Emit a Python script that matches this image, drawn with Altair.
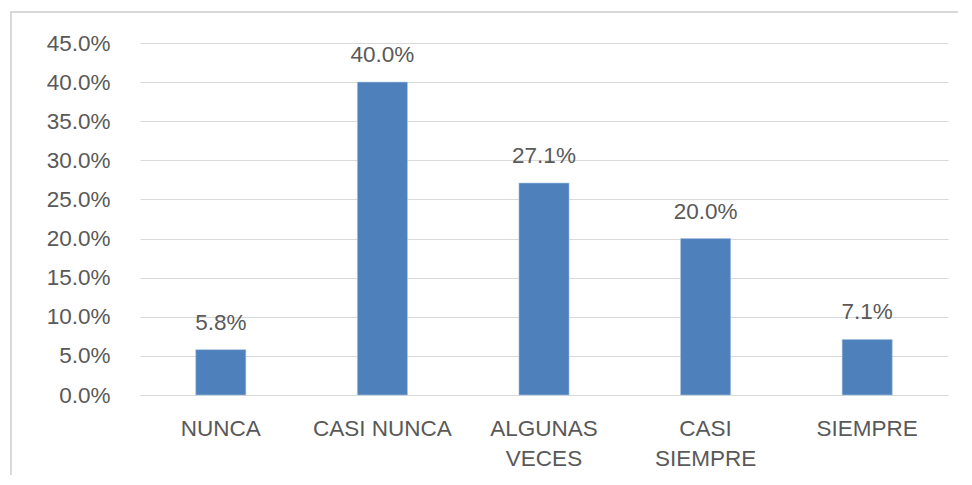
import altair as alt
import pandas as pd

categories = ["NUNCA", "CASI NUNCA", "ALGUNAS VECES", "CASI SIEMPRE", "SIEMPRE"]
values = [0.058, 0.400, 0.271, 0.200, 0.071]
y_ticks = [0.0, 0.05, 0.10, 0.15, 0.20, 0.25, 0.30, 0.35, 0.40, 0.45]

df = pd.DataFrame({"cat": categories, "val": values})

FONT = "Liberation Sans"
TXT = "#595959"
GRID = "#d9d9d9"
FS = 22.5

label_expr = ("datum.label == 'ALGUNAS VECES' ? ['ALGUNAS', 'VECES'] : "
              "datum.label == 'CASI SIEMPRE' ? ['CASI', 'SIEMPRE'] : datum.label")

x = alt.X("cat:N", sort=categories, title=None,
          scale=alt.Scale(paddingInner=0.69, paddingOuter=0.345),
          axis=alt.Axis(labelAngle=0, ticks=False, domain=True, domainColor=GRID,
                        labelFontSize=FS, labelColor=TXT, labelFont=FONT,
                        labelPadding=22, labelLineHeight=30, labelExpr=label_expr,
                        labelOverlap=False))
y = alt.Y("val:Q", title=None,
          scale=alt.Scale(domain=[0, 0.45], nice=False, zero=True),
          axis=alt.Axis(values=y_ticks, tickCount=10, format=".1%", ticks=False, domain=False,
                        grid=True, gridColor=GRID, labelFontSize=FS, labelColor=TXT,
                        labelFont=FONT, labelPadding=30, labelOverlap=False))

bars = alt.Chart(df).mark_bar(color="#4e80bc", stroke="#a9c3e3", strokeWidth=0.6).encode(x=x, y=y)
labels = alt.Chart(df).mark_text(dy=-27, fontSize=FS, color=TXT, font=FONT,
                                 baseline="middle").encode(
    x=x, y=y, text=alt.Text("val:Q", format=".1%"))

frame_top = alt.Chart(df).mark_rule(color="#d9d9d9", strokeWidth=2, clip=False).encode(
    x=alt.value(-130), x2=alt.value(830), y=alt.value(-31))
frame_left = alt.Chart(df).mark_rule(color="#d9d9d9", strokeWidth=2, clip=False).encode(
    x=alt.value(-129), y=alt.value(-31), y2=alt.value(450))

chart = alt.layer(bars, labels, frame_top, frame_left).properties(
    width=808, height=352,
    autosize=alt.AutoSizeParams(type="none"),
    padding={"left": 132, "top": 35, "right": 10, "bottom": 80},
).configure_view(stroke=None)

chart.save("out.html", embed_options={"renderer": "svg", "actions": False})
